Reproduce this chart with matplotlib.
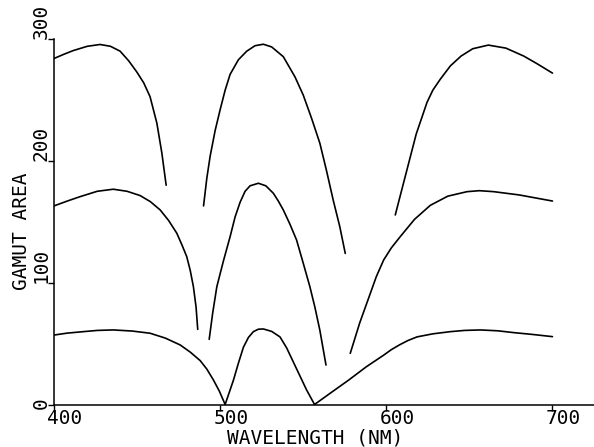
import matplotlib
matplotlib.use("Agg")
import matplotlib.pyplot as plt

# Top row of curves
top_left_x = [400, 406, 411.6, 420, 427.7, 434, 439.8, 445, 449.8, 454, 457.8, 461.9, 464.9, 467.5]
top_left_y = [284, 287.5, 290.5, 294, 295.5, 294, 290, 282, 273, 264, 252.7, 231, 206.5, 180]
top_mid_x = [490, 492, 494, 497, 500, 503, 506, 511, 516, 521, 526, 531, 538, 545, 550, 555, 560, 564, 568, 572, 575.3]
top_mid_y = [163, 186, 204, 225, 242, 258, 271, 283, 290, 294.5, 295.7, 293.5, 285.5, 269, 254, 235, 214.5, 192, 168, 146, 124]
top_right_x = [605.4, 608.5, 612.4, 618, 624.5, 628, 632.5, 638.6, 645, 652, 661.4, 672, 682.7, 691, 700]
top_right_y = [155.6, 172, 192.5, 222, 248, 258, 267, 278, 286, 292, 295, 292.5, 286, 279.5, 272]

# Middle row of curves
mid_left_x = [400, 408, 415.7, 426, 435.7, 444, 451.8, 458, 463.9, 469, 473.9, 477, 479.9, 482, 483.9, 485.5, 486.5]
mid_left_y = [163, 167, 170.6, 175, 176.7, 175, 171.5, 166.5, 159.7, 151, 140.6, 131, 121.3, 110, 96.7, 80, 61.7]
mid_mid_x = [493.4, 495.5, 498, 502, 506, 509, 512, 515, 518, 523, 527.5, 532, 535, 538, 542, 546, 550, 554, 557, 560, 563.7]
mid_mid_y = [53.5, 75, 96.7, 118, 137.8, 154, 166, 175, 179.5, 181.6, 179.5, 173.4, 167, 159.7, 148, 135, 116, 96.7, 80, 61, 32.4]
mid_right_x = [578.3, 584, 590.4, 594, 598.4, 603, 608.4, 617, 626.5, 637, 648.6, 656, 664.6, 680, 690, 700]
mid_right_y = [42, 67, 91.3, 105, 118.6, 128.5, 137.8, 152, 163.5, 171, 174.7, 175.5, 174.7, 172, 169.5, 167]

# Bottom row of curves
bot_left_x = [400, 408, 417.7, 426, 435.7, 447, 457.8, 467, 475.9, 482, 488, 492, 496, 499.5, 503]
bot_left_y = [57, 58.6, 59.8, 60.8, 61.2, 60.3, 58.5, 54.5, 48.9, 43, 36, 29, 20, 11, 0]
bot_mid_x = [503, 505.5, 508, 511, 514, 517, 520, 523, 526, 531, 536, 540, 544, 548, 552, 556.8]
bot_mid_y = [0, 10, 20, 34, 47, 55, 59.8, 61.8, 62, 60, 55.5, 46.5, 35, 23.5, 12, 0]
bot_right_x = [556.8, 567, 577.3, 588, 598.4, 603, 608, 613, 618.5, 628, 638.6, 647, 656.6, 667, 676.7, 688, 700]
bot_right_y = [0, 10, 20, 31, 40.5, 45, 49, 52.5, 55.5, 58, 59.8, 60.8, 61.2, 60.5, 59, 57.5, 55.7]

x_ticks = [400, 500, 600, 700]
y_ticks = [0, 100, 200, 300]
x_label = "WAVELENGTH (NM)"
y_label = "GAMUT AREA"

W, H = 594, 447
fig = plt.figure(figsize=(W / 100, H / 100), dpi=100)
ax = fig.add_axes([54 / W, (H - 404.5) / H, 1 - 54 / W, (404.5 - 39) / H])

series = [
    (top_left_x, top_left_y), (top_mid_x, top_mid_y), (top_right_x, top_right_y),
    (mid_left_x, mid_left_y), (mid_mid_x, mid_mid_y), (mid_right_x, mid_right_y),
    (bot_left_x, bot_left_y), (bot_mid_x, bot_mid_y), (bot_right_x, bot_right_y),
]
for xs, ys in series:
    ax.plot(xs, ys, color="black", lw=1.2, solid_joinstyle="round", solid_capstyle="round")

ax.set_xlim(400, 725)
ax.set_ylim(0, 300)
ax.spines["top"].set_visible(False)
ax.spines["right"].set_visible(False)
for s in ("left", "bottom"):
    ax.spines[s].set_linewidth(1.1)
ax.set_xticks(x_ticks)
ax.set_yticks(y_ticks)
ax.tick_params(direction="out", length=4, width=1, labelbottom=False, labelleft=False)

font = dict(family="DejaVu Sans Mono", fontsize=14, color="black")
for t in x_ticks:
    ax.annotate(str(t), xy=(t, 0), xycoords="data", xytext=(-5, -3),
                textcoords="offset points", ha="left", va="top", **font)
for t in y_ticks:
    ax.annotate(str(t), xy=(400, t), xycoords="data", xytext=(-9, 0 if t else -3),
                textcoords="offset points", ha="left", va="center",
                rotation=90, rotation_mode="anchor", **font)

ax.annotate(x_label, xy=(557, 0), xycoords="data", xytext=(0, -17),
            textcoords="offset points", ha="center", va="top", **font)
ax.annotate(y_label, xy=(400, 142.5), xycoords="data", xytext=(-23.5, 0),
            textcoords="offset points", ha="center", va="center",
            rotation=90, rotation_mode="anchor", **font)

fig.savefig("out.png", dpi=100)
